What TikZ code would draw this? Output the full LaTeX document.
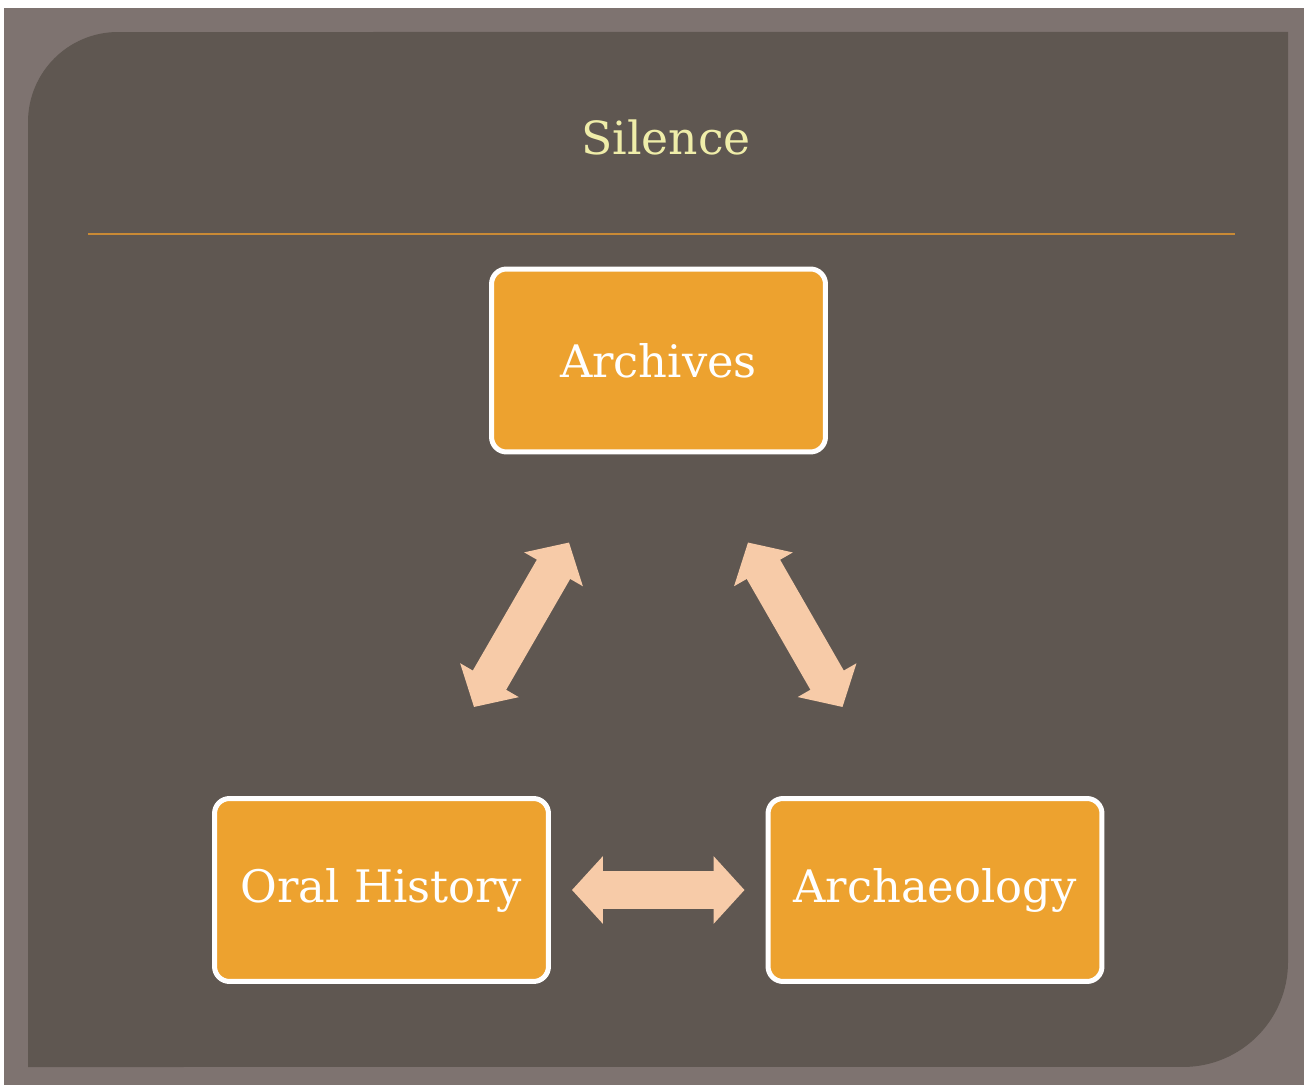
\documentclass[tikz,border=0pt]{standalone}
\usepackage{fontspec}
\setmainfont{DejaVu Serif}
\usepackage{xcolor}
\usetikzlibrary{arrows.meta}

\definecolor{framegray}{HTML}{7E7370}
\definecolor{panelgray}{HTML}{5F5751}
\definecolor{ruleorange}{HTML}{C98A35}
\definecolor{boxorange}{HTML}{EDA22F}
\definecolor{titleyellow}{HTML}{EFEDA9}
\definecolor{arrowpeach}{HTML}{F7CBA8}

\begin{document}
\begin{tikzpicture}[x=0.02cm, y=0.02cm,
        box/.style={draw=white, line width=0.1cm, fill=boxorange, rounded corners=0.3cm,
            minimum width=6.68cm, minimum height=3.66cm, text=white, font=\fontsize{25.5}{30}\selectfont},
        link/.style={draw=arrowpeach, line width=0.77cm,
            {Triangle[width=1.32cm,length=0.62cm]}-{Triangle[width=1.32cm,length=0.62cm]}}]
            \useasboundingbox (0,0) rectangle (1304,1085);
            \fill [white] (0,0) rectangle (1304,1085);
            \fill [framegray] (4,0) rectangle (1304,1077);
            \fill [panelgray] (28,18) -- (28,963) arc (180:90:1.8cm) -- (1288,1053) -- (1288,123) arc (0:-90:2.1cm) -- cycle;
            \node [anchor=base, text=titleyellow, font=\fontsize{26}{31}\selectfont] (title) at (666,930) {Silence};
            \draw [ruleorange, line width=0.05cm] (88,851) -- (1235,851);
            \node [box] (archives) at (658.5,724.5) {Archives};
            \node [box] (oral) at (381.5,195) {Oral History};
            \node [box] (archaeology) at (935,195) {Archaeology};
            \draw [link] ([shift={(-77,89)}]oral.north east) -- ([shift={(80,-88)}]archives.south west);
            \draw [link] ([shift={(-80,-88)}]archives.south east) -- ([shift={(77,89)}]archaeology.north west);
            \draw [link, shorten <=0.42cm, shorten >=0.42cm] (oral.east) -- (archaeology.west);
        \end{tikzpicture}
\end{document}
